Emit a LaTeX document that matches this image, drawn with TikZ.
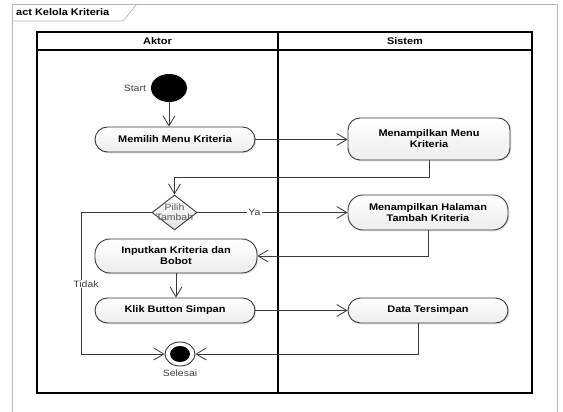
\documentclass[tikz,border=0pt]{standalone}
\usepackage{fontspec}
\setmainfont{Liberation Sans}[FakeStretch=1.14]
\usetikzlibrary{arrows.meta,shapes.geometric,shadows,calc}
\definecolor{linec}{HTML}{3A3A3A}
\definecolor{framec}{HTML}{B4B4B4}
\definecolor{labelc}{HTML}{404040}

\begin{document}
\begin{tikzpicture}[x=1pt,y=-1pt,
  txt/.style={font=\bfseries\fontsize{9.6}{11}\selectfont, text=black},
  act/.style={draw=linec, line width=0.9pt, rounded corners=#1,
    minimum width=160pt, minimum height=25pt, inner sep=2pt,
    top color=white, bottom color=gray!14, align=center, txt,
    drop shadow={opacity=0.22, shadow xshift=1.3pt, shadow yshift=-1.3pt}},
  flow/.style={draw=linec, line width=0.9pt,
    -{Straight Barb[length=10pt,width=12pt,line width=0.8pt]}},
  lblfont/.style={font=\fontsize{9.2}{10.5}\selectfont, text=labelc},
  lbl/.style={lblfont, fill=white, inner sep=1pt},
  lane/.style={draw=black, line width=1.2pt}
]
\useasboundingbox[fill=white] (0,0) rectangle (563,412);

% diagram frame with its name tab
\draw[framec, line width=0.7pt] (12,4) rectangle (557,425);
\draw[framec, line width=0.7pt] (12,21) -- (123,21) -- (137,4);
\node[anchor=west, inner sep=0pt, font=\bfseries\fontsize{9.6}{11}\selectfont] (title) at (16,12.5) {act Kelola Kriteria};

% swimlanes
\draw[lane] (37,32) rectangle (532,393);
\draw[lane] (37,50) -- (532,50);
\draw[lane] (278,32) -- (278,393);
\node[txt] (laneA) at (157.5,41) {Aktor};
\node[txt] (laneB) at (405,41) {Sistem};

% activity nodes
\node[ellipse, fill=black, minimum width=36pt, minimum height=28pt, inner sep=0pt] (start) at (169,88) {};
\node[lblfont, anchor=east] (startlbl) at (149.5,88) {Start};

\node[act=12.5pt] (m1) at (175,139.5) {Memilih Menu Kriteria};
\node[act=12pt, minimum width=162pt, minimum height=42pt] (s1) at (429,139) {Menampilkan Menu\\Kriteria};

\node[diamond, draw=linec, line width=0.9pt, top color=white, bottom color=gray!22,
  minimum width=45pt, minimum height=35pt, inner sep=0pt, aspect=1.3] (dec) at (174.5,212.5) {};
\node[font=\fontsize{9.2}{10}\selectfont, text=gray!70!black, align=center] (declbl) at (174.5,212.5) {Pilih\\Tambah};

\node[act=15pt, minimum height=35pt] (s2) at (428,212.5) {Menampilkan Halaman\\Tambah Kriteria};
\node[act=15pt, minimum width=162pt, minimum height=34pt] (a2) at (176,256) {Inputkan Kriteria dan\\Bobot};
\node[act=12.5pt] (a3) at (175,310.5) {Klik Button Simpan};
\node[act=12.5pt] (s3) at (428,310.5) {Data Tersimpan};

\node[ellipse, draw=linec, line width=0.9pt, fill=white, minimum width=30pt, minimum height=24pt, inner sep=0pt] (end) at (180,354) {};
\node[ellipse, fill=black, minimum width=20pt, minimum height=16pt, inner sep=0pt] (endin) at (end) {};
\node[lblfont] (endlbl) at (180,373) {Selesai};

% bend points
\coordinate (tidakbend) at (81,212.5);
\coordinate (s3out) at ($(s3.south)+(-10,0)$);

% control flows
\draw[flow] (start.south) -- (start.south |- m1.north);
\draw[flow] (m1.east) -- (s1.west |- m1.east);
\draw[flow] (s1.south) -- ++(0,17) -| (dec.north);
\draw[flow] (dec.east) -- (s2.west) node[lbl, pos=0.38] (ya) {Ya};
\draw[flow] (s2.south) |- (a2.east);
\draw[flow] (dec.west) -- (tidakbend) |- (end.west);
\draw[flow] (a2.south) -- (a2.south |- a3.north);
\draw[flow] (a3.east) -- (s3.west);
\draw[flow] (s3out) |- (end.east);
\node[lbl] (tidak) at (86,284) {Tidak};
\end{tikzpicture}
\end{document}
